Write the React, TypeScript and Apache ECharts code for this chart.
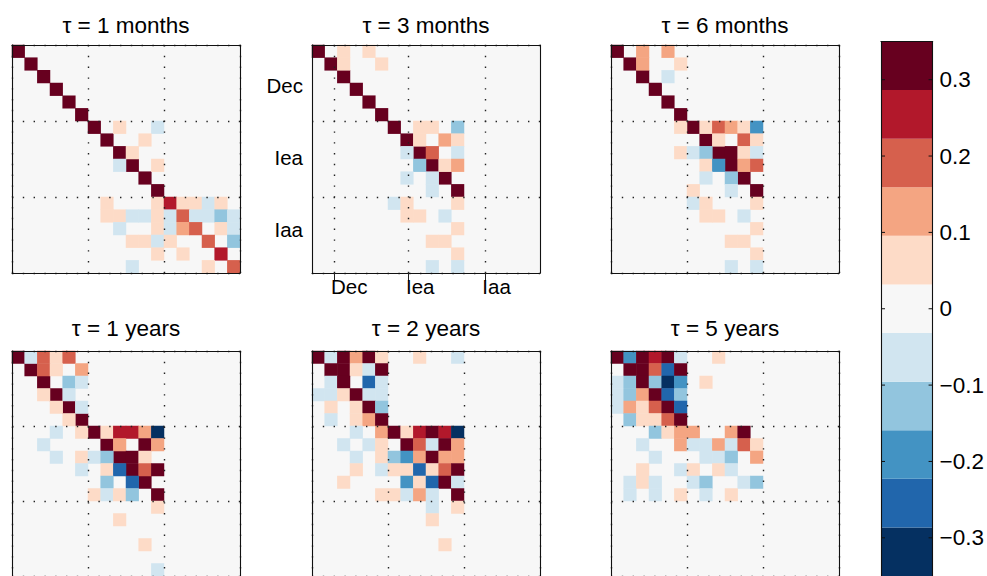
import React, { useEffect, useRef } from 'react';
import * as echarts from 'echarts';

// ---------- data ----------
const N = 18;
const GROUPS = ['Dec', 'Iea', 'Iaa'];
const TITLES = ['τ = 1 months', 'τ = 3 months', 'τ = 6 months', 'τ = 1 years', 'τ = 2 years', 'τ = 5 years'];

// sparse cells: [row, col, value]
const P_1M: number[][] = [
  [0, 0, .34], [1, 1, .34], [2, 2, .34], [3, 3, .34], [4, 4, .34], [5, 5, .34],
  [6, 6, .34], [7, 7, .34], [8, 8, .34], [9, 9, .34], [10, 10, .34], [11, 11, .34],
  [6, 8, .06], [6, 11, -.06], [7, 10, .06], [8, 9, .06], [9, 8, -.06], [9, 11, .06],
  [12, 7, .06], [12, 11, .06], [12, 12, .26], [12, 13, .06], [12, 14, .06], [12, 15, -.06], [12, 16, .06],
  [13, 7, .06], [13, 8, .06], [13, 9, -.06], [13, 10, -.06], [13, 11, .06], [13, 12, -.06], [13, 13, .19],
  [13, 14, -.06], [13, 15, -.06], [13, 16, -.13], [13, 17, -.06],
  [14, 8, -.06], [14, 11, .06], [14, 12, -.06], [14, 13, .13], [14, 14, .19], [14, 16, .06], [14, 17, -.06],
  [15, 9, .06], [15, 10, .06], [15, 11, -.06], [15, 12, .06], [15, 15, .19], [15, 17, -.13],
  [16, 11, .06], [16, 13, .06], [16, 16, .26],
  [17, 9, -.06], [17, 15, .06], [17, 17, .19],
];
const P_3M: number[][] = [
  [0, 0, .34], [1, 1, .34], [2, 2, .34], [3, 3, .34], [4, 4, .34], [5, 5, .34],
  [6, 6, .34], [7, 7, .34], [8, 8, .34], [9, 9, .34], [10, 10, .34], [11, 11, .34],
  [0, 2, .06], [0, 4, .06], [1, 2, .06], [1, 5, .06],
  [6, 8, .06], [6, 9, .06], [6, 11, -.13],
  [7, 8, .06], [7, 10, .13], [7, 11, .06],
  [8, 7, -.06], [8, 9, .19], [8, 11, -.06],
  [9, 8, -.13], [9, 10, .06], [9, 11, .13],
  [10, 7, -.06], [10, 9, -.06], [11, 9, -.06],
  [12, 6, -.06], [12, 7, .06], [12, 11, .06],
  [13, 7, .06], [13, 8, .06], [13, 10, -.06],
  [14, 11, .06], [15, 9, .06], [15, 10, .06], [16, 11, .06],
  [17, 9, -.06], [17, 11, -.06],
];
const P_6M: number[][] = [
  [0, 0, .34], [1, 1, .34], [2, 2, .34], [3, 3, .34], [4, 4, .34], [5, 5, .34],
  [6, 6, .34], [7, 7, .34], [8, 8, .34], [9, 9, .34], [10, 10, .34], [11, 11, .34],
  [0, 2, .13], [0, 4, .13], [1, 2, .13], [1, 5, .06], [2, 4, -.06],
  [6, 5, .06], [6, 7, .06], [6, 8, .19], [6, 9, .13], [6, 10, .06], [6, 11, -.19],
  [7, 8, .06], [7, 10, .19], [7, 11, .06],
  [8, 5, .06], [8, 6, -.06], [8, 7, -.13], [8, 9, .34], [8, 10, .06], [8, 11, -.06],
  [9, 7, .06], [9, 8, -.19], [9, 10, .13], [9, 11, .19],
  [10, 7, -.06], [10, 9, -.13],
  [11, 6, .06], [11, 9, -.06],
  [12, 6, -.06], [12, 7, .06], [12, 11, .06],
  [13, 7, .06], [13, 8, .06], [13, 10, -.06],
  [14, 11, .06], [15, 9, .06], [15, 10, .06], [16, 11, .06],
  [17, 9, -.06], [17, 11, -.06],
];
const P_1Y: number[][] = [
  [0, 0, .34], [1, 1, .34], [2, 2, .34], [3, 3, .34], [4, 4, .34], [5, 5, .34],
  [6, 6, .34], [7, 7, .34], [8, 8, .34], [9, 9, .34], [10, 10, .34], [11, 11, .34],
  [0, 1, -.06], [0, 2, .19], [0, 3, .06], [0, 4, .19],
  [1, 2, .19], [1, 3, .06], [1, 5, .13],
  [2, 4, -.13], [2, 5, -.06],
  [3, 2, .06], [3, 4, -.06],
  [4, 3, .06], [4, 5, -.06],
  [5, 4, .06],
  [6, 3, -.06], [6, 5, .06], [6, 7, .06], [6, 8, .26], [6, 9, .26], [6, 10, .13], [6, 11, -.33],
  [7, 2, -.06], [7, 8, .13], [7, 10, .34], [7, 11, .13],
  [8, 3, -.06], [8, 5, .06], [8, 6, -.06], [8, 7, -.13], [8, 9, .34], [8, 10, .06],
  [9, 5, -.06], [9, 7, .06], [9, 8, -.26], [9, 10, .19], [9, 11, .34],
  [10, 7, -.13], [10, 9, -.26],
  [11, 6, .06], [11, 7, -.06], [11, 8, .06], [11, 9, -.13],
  [12, 11, .06], [13, 8, .06], [15, 10, .06], [17, 11, -.06],
];
const P_2Y: number[][] = [
  [0, 0, .34], [0, 1, -.06], [0, 2, .34], [0, 3, .13], [0, 4, .34], [0, 5, .06], [0, 8, .06], [0, 11, -.06],
  [1, 1, .34], [1, 2, .34], [1, 3, .06], [1, 4, -.06], [1, 5, .34],
  [2, 1, -.06], [2, 2, .34], [2, 4, -.26], [2, 5, -.06],
  [3, 0, -.06], [3, 1, -.06], [3, 2, .06], [3, 3, .34], [3, 4, -.06], [3, 5, -.06],
  [4, 1, .06], [4, 3, .06], [4, 4, .34], [4, 5, -.13],
  [5, 1, -.06], [5, 3, .06], [5, 4, .13], [5, 5, .34],
  [6, 3, -.06], [6, 5, .13], [6, 6, .34], [6, 7, .06], [6, 8, .26], [6, 9, .34], [6, 10, .26], [6, 11, -.33],
  [7, 2, -.06], [7, 4, -.06], [7, 5, .06], [7, 7, .34], [7, 8, .19], [7, 9, -.06], [7, 10, .34], [7, 11, .13],
  [8, 3, -.06], [8, 5, .06], [8, 6, -.13], [8, 7, -.19], [8, 8, .13], [8, 9, .34], [8, 10, .13], [8, 11, .13],
  [9, 3, .06], [9, 5, -.06], [9, 6, .06], [9, 7, .06], [9, 8, -.26], [9, 9, .06], [9, 10, .19], [9, 11, .34],
  [10, 2, .06], [10, 7, -.19], [10, 8, .06], [10, 9, -.26], [10, 10, .34], [10, 11, -.06],
  [11, 5, .06], [11, 6, .06], [11, 7, -.06], [11, 8, .13], [11, 9, -.06], [11, 11, .34],
  [12, 9, -.06], [12, 11, .06], [13, 9, .06], [15, 10, .06],
];
const P_5Y: number[][] = [
  [0, 0, .34], [0, 1, -.19], [0, 2, .34], [0, 3, .26], [0, 4, .34], [0, 5, -.06], [0, 8, .06],
  [1, 1, .34], [1, 2, .34], [1, 3, .19], [1, 4, -.26], [1, 5, .34],
  [2, 0, -.06], [2, 1, -.13], [2, 2, .34], [2, 3, -.13], [2, 4, -.33], [2, 5, -.19], [2, 7, .06],
  [3, 0, -.06], [3, 1, -.13], [3, 2, .13], [3, 3, .34], [3, 4, -.26], [3, 5, -.13],
  [4, 0, -.06], [4, 1, .13], [4, 2, .06], [4, 3, .19], [4, 4, .34], [4, 5, -.26],
  [5, 1, -.13], [5, 2, .06], [5, 3, .06], [5, 4, .19], [5, 5, .34],
  [6, 3, -.13], [6, 4, .06], [6, 5, .13], [6, 6, .13], [6, 9, .13], [6, 10, .34],
  [7, 2, -.06], [7, 5, .13], [7, 6, -.06], [7, 7, -.06], [7, 8, .13], [7, 9, -.06], [7, 10, .19], [7, 11, .06],
  [8, 3, -.06], [8, 7, -.06], [8, 8, -.06], [8, 9, -.13], [8, 11, .13],
  [9, 2, .06], [9, 5, -.06], [9, 6, .06], [9, 8, .06], [9, 9, -.06],
  [10, 1, -.06], [10, 2, .06], [10, 3, -.06], [10, 6, -.06], [10, 7, -.13], [10, 10, -.06], [10, 11, -.13],
  [11, 1, -.06], [11, 3, -.06], [11, 5, .06], [11, 7, -.06], [11, 9, .06],
];
const PANELS = [P_1M, P_3M, P_6M, P_1Y, P_2Y, P_5Y];

const BIN_EDGES = [-0.35, -0.2864, -0.2227, -0.1591, -0.0955, -0.0318, 0.0318, 0.0955, 0.1591, 0.2227, 0.2864, 0.35];
const BIN_COLORS = ['#053061', '#2166ac', '#4393c3', '#92c5de', '#d1e5f0', '#f7f7f7', '#fddbc7', '#f4a582', '#d6604d', '#b2182b', '#67001f'];
const CB_TICKS = [-0.3, -0.2, -0.1, 0, 0.1, 0.2, 0.3];

// ---------- layout ----------
const FONT = 'Liberation Sans, Arial, sans-serif';
const PANEL_LEFT = [12, 312, 611];
const PANEL_TOP = [45, 351];
const TITLE_TOP = [14, 317];
const PANEL_SIZE = 228;
const Y_LABEL_POS = [3.22, 8.9, 14.59];
const X_TICK_POS = [1.74, 7.58, 13.66];
const X_LABEL_POS = [1.5, 7.42, 13.45];
const LABEL_PANEL = 1;

function buildOption() {
  const cats = Array.from({ length: N }, (_, i) => String(i));
  const grid: any[] = [];
  const xAxis: any[] = [];
  const yAxis: any[] = [];
  const series: any[] = [];
  const title: any[] = [];
  const black = { color: '#111', width: 1.1 };
  const dotted = { color: '#222', width: 1.4, type: [1.4, 9.4] };

  PANELS.forEach((cells, i) => {
    const col = i % 3;
    const row = Math.floor(i / 3);
    const left = PANEL_LEFT[col];
    const top = PANEL_TOP[row];
    grid.push({ left, top, width: PANEL_SIZE, height: PANEL_SIZE, show: true, backgroundColor: '#f7f7f7', borderWidth: 0 });
    title.push({
      text: TITLES[i], left: left + PANEL_SIZE / 2, top: TITLE_TOP[row], textAlign: 'center', padding: 0,
      textStyle: { fontFamily: FONT, fontSize: 22.5, fontWeight: 'normal', color: '#000' },
    });
    const withLabels = i === LABEL_PANEL;
    xAxis.push({ gridIndex: i, type: 'category', data: cats, show: false, position: 'bottom' });
    xAxis.push({
      gridIndex: i, type: 'value', min: 0, max: N, interval: 6, position: 'bottom', z: 10,
      axisLine: { show: true, onZero: false, lineStyle: black },
      axisTick: withLabels
        ? { show: true, customValues: X_TICK_POS, length: 8, inside: false, lineStyle: { color: '#222', width: 1 } }
        : { show: false },
      axisLabel: withLabels
        ? {
            show: true, customValues: X_LABEL_POS, align: 'left', margin: 3,
            fontFamily: FONT, fontSize: 20.5, color: '#000',
            formatter: (v: number) => GROUPS[X_LABEL_POS.indexOf(v)] ?? '',
          }
        : { show: false },
      splitLine: { show: true, lineStyle: dotted },
    });
    xAxis.push({
      gridIndex: i, type: 'value', min: 0, max: N, position: 'top', z: 10,
      axisLine: { show: true, onZero: false, lineStyle: black }, axisTick: { show: false }, axisLabel: { show: false }, splitLine: { show: false },
    });
    yAxis.push({ gridIndex: i, type: 'category', data: cats, inverse: true, show: false, position: 'left' });
    yAxis.push({
      gridIndex: i, type: 'value', min: 0, max: N, interval: 6, inverse: true, position: 'left', z: 10,
      axisLine: { show: true, onZero: false, lineStyle: black },
      axisTick: { show: false },
      axisLabel: withLabels
        ? {
            show: true, customValues: Y_LABEL_POS, margin: 9,
            fontFamily: FONT, fontSize: 20.5, color: '#000',
            formatter: (v: number) => GROUPS[Y_LABEL_POS.indexOf(v)] ?? '',
          }
        : { show: false },
      splitLine: { show: true, lineStyle: dotted },
    });
    yAxis.push({
      gridIndex: i, type: 'value', min: 0, max: N, inverse: true, position: 'right', z: 10,
      axisLine: { show: true, onZero: false, lineStyle: black }, axisTick: { show: false }, axisLabel: { show: false }, splitLine: { show: false },
    });
    series.push({
      type: 'heatmap', xAxisIndex: 3 * i, yAxisIndex: 3 * i,
      data: cells.map(([r, c, v]) => [c, r, v]),
      itemStyle: { borderWidth: 0 },
      emphasis: { disabled: true },
      z: 2,
    });
  });

  // colorbar
  const cbGrid = PANELS.length;
  grid.push({ left: 881, top: 41.5, width: 53, height: 539, show: false });
  xAxis.push({
    gridIndex: cbGrid, type: 'value', min: 0, max: 1, position: 'top', z: 10,
    axisLine: { show: true, onZero: false, lineStyle: black }, axisTick: { show: false }, axisLabel: { show: false }, splitLine: { show: false },
  });
  yAxis.push({
    gridIndex: cbGrid, type: 'value', min: -0.35, max: 0.35, position: 'right', z: 10,
    axisLine: { show: true, onZero: false, lineStyle: black },
    axisTick: { show: false },
    axisLabel: {
      show: true, customValues: CB_TICKS, margin: 7, fontFamily: FONT, fontSize: 22.5, color: '#000',
      formatter: (v: number) => (v < 0 ? '\u2212' + String(Math.abs(v)) : String(v)),
    },
    splitLine: { show: false },
  });
  yAxis.push({
    gridIndex: cbGrid, type: 'value', min: -0.35, max: 0.35, position: 'left', z: 10,
    axisLine: { show: true, onZero: false, lineStyle: black },
    axisTick: { show: false }, axisLabel: { show: false }, splitLine: { show: false },
  });
  const cbX = xAxis.length - 1;
  const cbY = yAxis.length - 2;
  series.push({
    type: 'custom',
    xAxisIndex: cbX,
    yAxisIndex: cbY,
    data: BIN_COLORS.map((_, k) => [BIN_EDGES[k], BIN_EDGES[k + 1], k]),
    dimensions: ['lo', 'hi', 'k'],
    encode: { y: [0, 1] },
    renderItem: (_p: any, api: any) => {
      const lo = api.value(0);
      const hi = api.value(1);
      const a = api.coord([0, hi]);
      const b = api.coord([1, lo]);
      return {
        type: 'rect',
        shape: { x: a[0], y: a[1], width: b[0] - a[0], height: b[1] - a[1] },
        style: { fill: BIN_COLORS[api.value(2)], stroke: null },
      };
    },
    z: 2,
  });
  // colorbar tick marks (inward, on both edges)
  series.push({
    type: 'custom',
    xAxisIndex: cbX,
    yAxisIndex: cbY,
    data: CB_TICKS.map((v) => [v]),
    dimensions: ['v'],
    encode: { y: 0 },
    renderItem: (_p: any, api: any) => {
      const v = api.value(0);
      const a = api.coord([0, v]);
      const b = api.coord([1, v]);
      const st = { stroke: '#111', lineWidth: 1 };
      return {
        type: 'group',
        children: [
          { type: 'line', shape: { x1: a[0], y1: a[1], x2: a[0] + 4, y2: a[1] }, style: st },
          { type: 'line', shape: { x1: b[0] - 4, y1: b[1], x2: b[0], y2: b[1] }, style: st },
        ],
      };
    },
    z: 5,
  });

  const pieces = BIN_COLORS.map((color, k) => {
    const p: any = { color };
    if (k > 0) p.gte = BIN_EDGES[k];
    if (k < BIN_COLORS.length - 1) p.lt = BIN_EDGES[k + 1];
    return p;
  });

  return {
    animation: false,
    backgroundColor: '#ffffff',
    title,
    grid,
    xAxis,
    yAxis,
    visualMap: {
      type: 'piecewise', show: false, dimension: 2,
      seriesIndex: PANELS.map((_, i) => i),
      pieces,
    },
    series,
  };
}

export default function App() {
  const ref = useRef<HTMLDivElement>(null);
  useEffect(() => {
    if (!ref.current) return;
    const chart = echarts.init(ref.current, undefined, { renderer: 'svg' });
    chart.setOption(buildOption() as any);
    return () => chart.dispose();
  }, []);
  return (
    <div
      ref={ref}
      style={{ position: 'fixed', left: 0, top: 0, width: 987, height: 576, background: '#fff' }}
    />
  );
}
